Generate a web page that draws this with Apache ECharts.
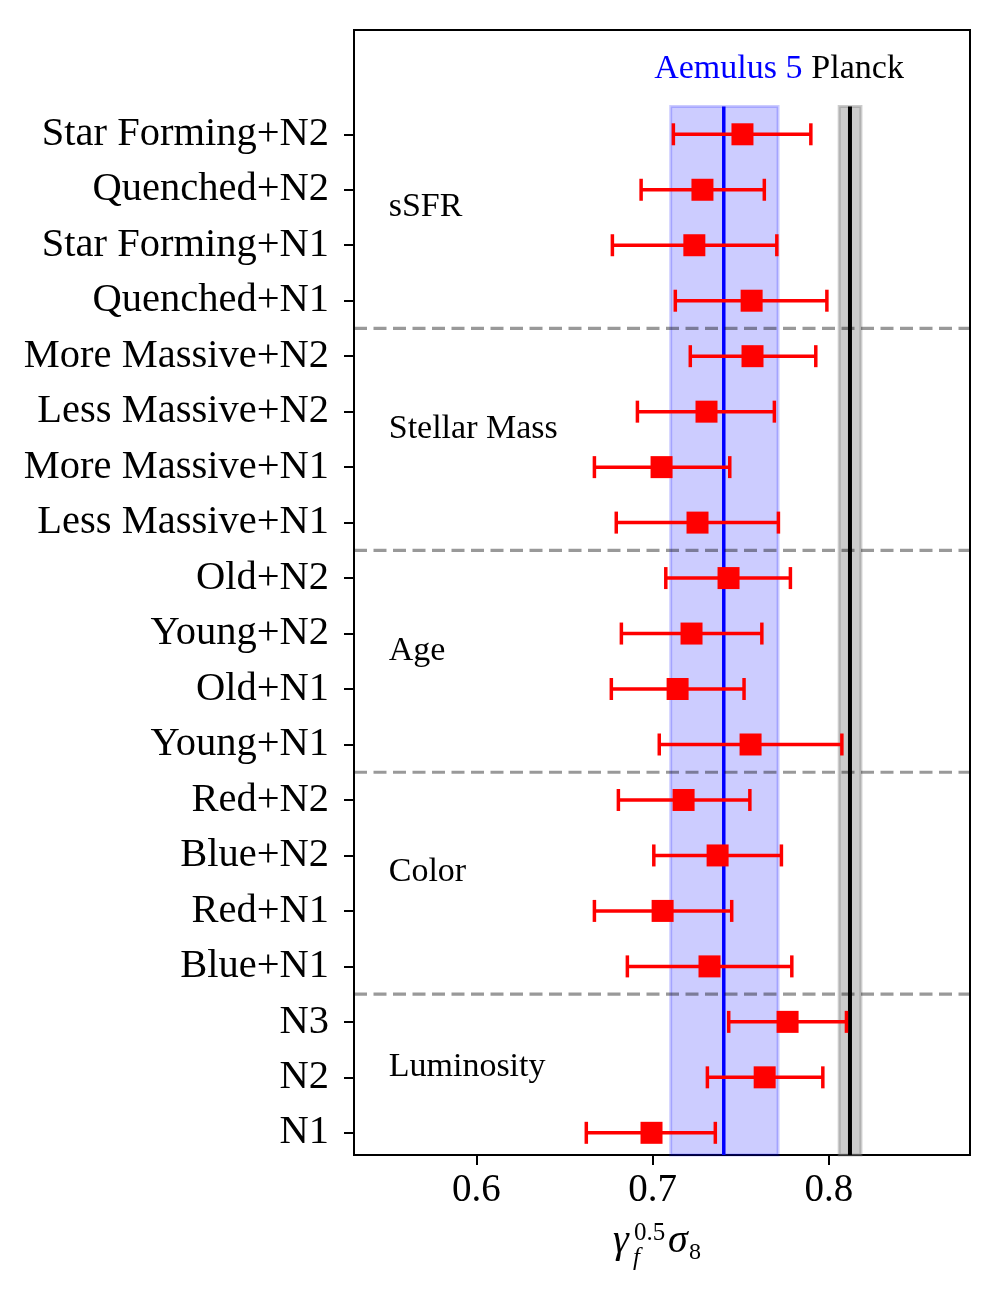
<!DOCTYPE html>
<html><head><meta charset="utf-8">
<script src="https://cdn.jsdelivr.net/npm/echarts@6/dist/echarts.min.js"></script>
<style>html,body{margin:0;padding:0;background:#fff}#c{width:1000px;height:1300px}</style>
</head><body><div id="c"></div>
<script>
// ---- data (listed top to bottom as in the figure) ----
const categories = ['Star Forming+N2','Quenched+N2','Star Forming+N1','Quenched+N1',
  'More Massive+N2','Less Massive+N2','More Massive+N1','Less Massive+N1',
  'Old+N2','Young+N2','Old+N1','Young+N1',
  'Red+N2','Blue+N2','Red+N1','Blue+N1',
  'N3','N2','N1'];
const centers = [0.7509,0.7282,0.7236,0.7561, 0.7566,0.7305,0.7050,0.7254, 0.7430,0.7220,0.7141,0.7555, 0.7175,0.7368,0.7056,0.7322, 0.7765,0.7635,0.6993];
const lows    = [0.7117,0.6934,0.6771,0.7128, 0.7213,0.6913,0.6669,0.6793, 0.7074,0.6822,0.6765,0.7037, 0.6805,0.7006,0.6669,0.6856, 0.7431,0.7310,0.6623];
const highs   = [0.7897,0.7633,0.7704,0.7988, 0.7925,0.7690,0.7437,0.7713, 0.7781,0.7619,0.7518,0.8073, 0.7551,0.7730,0.7448,0.7789, 0.8099,0.7965,0.7355];
const xTicks = [0.6, 0.7, 0.8];
const xRange = [0.5305, 0.8800];
const yRange = [-0.4, 19.88];
const groupNames = ['sSFR','Stellar Mass','Age','Color','Luminosity'];
const groupY = [16.69, 12.69, 8.69, 4.70, 1.18];
const groupX = 0.5502;
const separators = [14.5, 10.5, 6.5, 2.5];
const aemulusBand = [0.7102, 0.7711];
const aemulusValue = 0.7403;
const planckBand = [0.8058, 0.8181];
const planckValue = 0.8119;
const bandTop = 18.5;
const refNames = ['Aemulus 5', 'Planck'];
const refNameX = [0.7008, 0.7900];
const refNameY = 19.18;

const n = categories.length;
const yOf = i => n - 1 - i;
const yTickValues = categories.map((c, i) => yOf(i));

const FONT = '"Liberation Serif", "Times New Roman", serif';
const chart = echarts.init(document.getElementById('c'), null, {renderer: 'canvas'});

const option = {
  animation: false,
  grid: {left: 354, right: 30, top: 30, bottom: 145, show: true, borderColor: '#000', borderWidth: 2, containLabel: false},
  xAxis: {
    type: 'value', min: xRange[0], max: xRange[1],
    axisLine: {show: true, onZero: false, lineStyle: {color: '#000', width: 2}},
    axisTick: {show: true, inside: false, length: 10, lineStyle: {color: '#000', width: 2}, customValues: xTicks},
    axisLabel: {show: true, color: '#000', fontFamily: FONT, fontSize: 39, margin: 16, customValues: xTicks,
      formatter: v => v.toFixed(1)},
    splitLine: {show: false}
  },
  yAxis: {
    type: 'value', min: yRange[0], max: yRange[1],
    axisLine: {show: true, onZero: false, lineStyle: {color: '#000', width: 2}},
    axisTick: {show: true, inside: false, length: 10, lineStyle: {color: '#000', width: 2}, customValues: yTickValues},
    axisLabel: {show: true, color: '#000', fontFamily: FONT, fontSize: 40.5, margin: 25, customValues: yTickValues,
      formatter: v => categories[n - 1 - Math.round(v)]},
    splitLine: {show: false}
  },
  series: [
    { // shaded bands
      type: 'custom', z: 1, silent: true,
      data: [[aemulusBand[0], aemulusBand[1], yRange[0], bandTop, 0], [planckBand[0], planckBand[1], yRange[0], bandTop, 1]],
      encode: {x: [0, 1], y: [2, 3]},
      renderItem: (params, api) => {
        const p0 = api.coord([api.value(0), api.value(3)]);
        const p1 = api.coord([api.value(1), api.value(2)]);
        const k = api.value(4);
        const col = k === 0 ? 'rgba(0,0,255,0.2)' : 'rgba(128,128,128,0.4)';
        return {type: 'rect', shape: {x: p0[0], y: p0[1], width: p1[0] - p0[0], height: p1[1] - p0[1]},
          style: {fill: col, stroke: col, lineWidth: 3}};
      }
    },
    { // reference lines
      type: 'custom', z: 2, silent: true,
      data: [[aemulusValue, yRange[0], bandTop, 0], [planckValue, yRange[0], bandTop, 1]],
      encode: {x: 0, y: [1, 2]},
      renderItem: (params, api) => {
        const a = api.coord([api.value(0), api.value(1)]);
        const b = api.coord([api.value(0), api.value(2)]);
        const k = api.value(3);
        return {type: 'line', shape: {x1: a[0], y1: a[1], x2: b[0], y2: b[1]},
          style: {stroke: k === 0 ? '#0000ff' : '#000000', lineWidth: k === 0 ? 3.5 : 4}};
      }
    },
    { // group separators
      type: 'custom', z: 3, silent: true,
      data: separators.map(s => [xRange[0], xRange[1], s]),
      encode: {x: [0, 1], y: 2},
      renderItem: (params, api) => {
        const a = api.coord([api.value(0), api.value(2)]);
        const b = api.coord([api.value(1), api.value(2)]);
        return {type: 'line', shape: {x1: a[0], y1: a[1], x2: b[0], y2: b[1]},
          style: {stroke: 'rgba(0,0,0,0.4)', lineWidth: 3.2, lineDash: [13, 6.5]}};
      }
    },
    { // error bars
      type: 'custom', z: 4, silent: true,
      data: categories.map((c, i) => [lows[i], highs[i], yOf(i)]),
      encode: {x: [0, 1], y: 2},
      renderItem: (params, api) => {
        const a = api.coord([api.value(0), api.value(2)]);
        const b = api.coord([api.value(1), api.value(2)]);
        const h = 11;
        const st = {stroke: '#ff0000', lineWidth: 3.5};
        return {type: 'group', children: [
          {type: 'line', shape: {x1: a[0], y1: a[1], x2: b[0], y2: b[1]}, style: st},
          {type: 'line', shape: {x1: a[0], y1: a[1] - h, x2: a[0], y2: a[1] + h}, style: st},
          {type: 'line', shape: {x1: b[0], y1: b[1] - h, x2: b[0], y2: b[1] + h}, style: st}
        ]};
      }
    },
    { // markers
      type: 'scatter', z: 5, silent: true, symbol: 'rect', symbolSize: 22,
      itemStyle: {color: '#ff0000', opacity: 1},
      data: categories.map((c, i) => [centers[i], yOf(i)])
    },
    { // group labels
      type: 'custom', z: 6, silent: true,
      data: groupNames.map((g, i) => [groupX, groupY[i], i]),
      encode: {x: 0, y: 1},
      renderItem: (params, api) => {
        const p = api.coord([api.value(0), api.value(1)]);
        return {type: 'text', x: p[0], y: p[1],
          style: {text: groupNames[api.value(2)], fill: '#000', font: '34px ' + FONT, align: 'left', verticalAlign: 'middle'}};
      }
    },
    { // reference names
      type: 'custom', z: 6, silent: true,
      data: refNames.map((r, i) => [refNameX[i], refNameY, i]),
      encode: {x: 0, y: 1},
      renderItem: (params, api) => {
        const p = api.coord([api.value(0), api.value(1)]);
        const k = api.value(2);
        return {type: 'text', x: p[0], y: p[1],
          style: {text: refNames[k], fill: k === 0 ? '#0000ff' : '#000000', font: '34px ' + FONT, align: 'left', verticalAlign: 'middle'}};
      }
    }
  ],
  graphic: [
    {type: 'text', x: 613, y: 1241, style: {text: 'γ', font: 'italic 40px ' + FONT, fill: '#000', verticalAlign: 'middle'}},
    {type: 'text', x: 634, y: 1233, style: {text: '0.5', font: '25px ' + FONT, fill: '#000', verticalAlign: 'middle'}},
    {type: 'text', x: 633, y: 1258, style: {text: 'f', font: 'italic 25px ' + FONT, fill: '#000', verticalAlign: 'middle'}},
    {type: 'text', x: 668, y: 1241, style: {text: 'σ', font: 'italic 40px ' + FONT, fill: '#000', verticalAlign: 'middle'}},
    {type: 'text', x: 689, y: 1253, style: {text: '8', font: '24px ' + FONT, fill: '#000', verticalAlign: 'middle'}}
  ]
};
chart.setOption(option);
</script>
</body></html>
